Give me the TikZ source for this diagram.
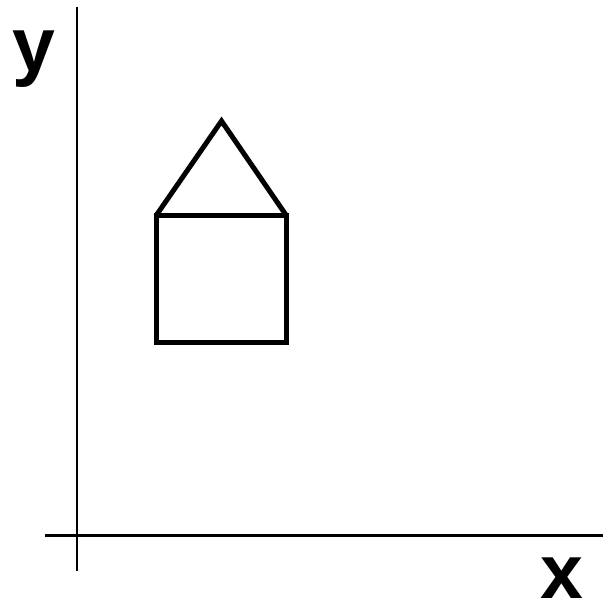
\documentclass[tikz,border=0pt]{standalone}
\usepackage{fontspec}
\setmainfont{Liberation Sans}
\tikzset{
  axis/.style={line width=2.5pt, black},
  house/.style={line width=5pt, black, line join=miter},
  lbl/.style={inner sep=0pt, anchor=base, font=\bfseries\fontsize{77}{77}\selectfont}
}
\begin{document}
\begin{tikzpicture}[x=1pt,y=-1pt]
\useasboundingbox (0,0) rectangle (603,603);
\coordinate (ytop) at (77,7);
\coordinate (ybot) at (77,571);
\coordinate (xl) at (45,535.5);
\coordinate (xr) at (603,535.5);
\draw[axis] (ytop) -- (ybot);
\draw[axis] (xl) -- (xr);
\coordinate (a) at (156.5,215);
\coordinate (b) at (286,215);
\coordinate (c) at (286,342);
\coordinate (d) at (156.5,342);
\coordinate (apex) at (221.5,121);
\draw[house] (a) -- (b) -- (c) -- (d) -- cycle;
\draw[house] (a) -- (apex) -- (b);
\node[lbl] (ylab) at (33.5,71.5) {y};
\node[lbl] (xlab) at (561.5,598.5) {x};
\end{tikzpicture}
\end{document}
